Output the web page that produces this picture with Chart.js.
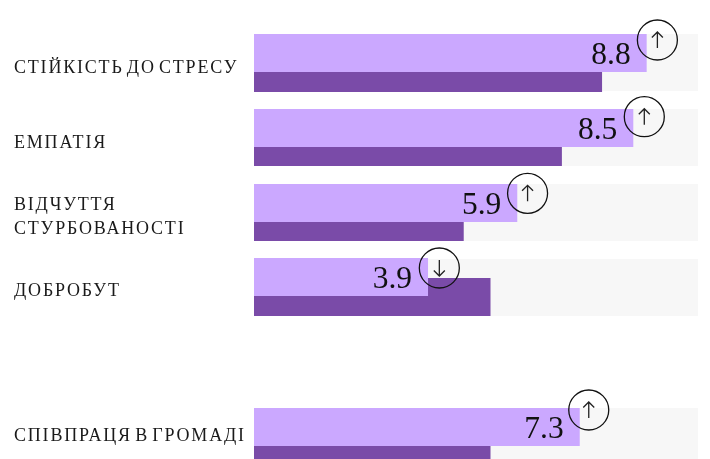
<!DOCTYPE html>
<html lang="uk">
<head>
<meta charset="utf-8">
<style>
  html,body{margin:0;padding:0;background:#fff;overflow:hidden;height:100%}
  canvas{display:block}
</style>
</head>
<body>
<canvas id="chart" width="710" height="484"></canvas>
<script src="https://cdn.jsdelivr.net/npm/chart.js@4"></script>
<script>
  const categories = ['СТІЙКІСТЬ ДО СТРЕСУ', 'ЕМПАТІЯ', ['ВІДЧУТТЯ', 'СТУРБОВАНОСТІ'], 'ДОБРОБУТ', 'СПІВПРАЦЯ В ГРОМАДІ'];
  const rows = [0, 1, 2, 3, 5];                 // row 4 is left empty on purpose
  const currentValues = [8.8, 8.5, 5.9, 3.9, 7.3];
  const previousValues = [7.8, 6.9, 4.7, 5.3, 5.3];
  const trends = ['up', 'up', 'up', 'down', 'up'];
  const axisMax = 9.95;

  // Layout, in pixels
  const ROW_PX = 75;
  const ROW_NUDGE_PX = [0, 0, 0, -1, -1];
  const BAR_PX = 38, TRACK_PX = 57;
  const TRACK_SHIFT_PX = [0, 0, 0, 1, 0];
  const DARK_SHIFT_PX = [20, 19, 19, 20, 19];
  const LABEL_PX = [34, 34, 33, 33.5, 28];
  const BADGE_DX_PX = [10.7, 11, 10.3, 11.3, 9], BADGE_R = 20;
  const BADGE_DY_PX = [6, 7.7, 9.3, 10, 2];
  const PX_PER_UNIT = 444 / axisMax;

  const rowY = (i, px) => rows[i] + (ROW_NUDGE_PX[i] + px) / ROW_PX;
  const badgeX = i => currentValues[i] + BADGE_DX_PX[i] / PX_PER_UNIT;

  // Value number and arrow inside the circle; also the spacing for the axis labels
  const marksPlugin = {
    id: 'marks',
    beforeDraw(c){ c.ctx.letterSpacing = '1.8px'; c.ctx.wordSpacing = '-3px'; },
    afterDatasetsDraw(c){
      const { ctx, scales: { x, y } } = c;
      ctx.save();
      ctx.letterSpacing = '0px';
      ctx.wordSpacing = '0px';
      ctx.fillStyle = '#111';
      ctx.strokeStyle = '#222';
      ctx.lineWidth = 1.3;
      ctx.textBaseline = 'alphabetic';
      ctx.textAlign = 'right';
      ctx.font = '31.5px "Liberation Serif"';
      currentValues.forEach((v, i) => {
        ctx.fillText(v.toFixed(1), x.getPixelForValue(v) - 16, y.getPixelForValue(rowY(i, 0)) + 30);
        const cx = x.getPixelForValue(badgeX(i));
        const cy = y.getPixelForValue(rowY(i, BADGE_DY_PX[i]));
        const dir = trends[i] === 'up' ? -1 : 1;
        ctx.beginPath();
        ctx.moveTo(cx, cy - dir * 8);
        ctx.lineTo(cx, cy + dir * 8);
        ctx.moveTo(cx - 5.5, cy + dir * 2.5);
        ctx.lineTo(cx, cy + dir * 8);
        ctx.lineTo(cx + 5.5, cy + dir * 2.5);
        ctx.stroke();
      });
      ctx.restore();
    }
  };

  new Chart(document.getElementById('chart'), {
    data: {
      datasets: [
        {
          type: 'bar', indexAxis: 'y', label: 'track', order: 4,
          data: currentValues.map((v, i) => ({ x: axisMax, y: rowY(i, TRACK_SHIFT_PX[i] + TRACK_PX / 2) })),
          backgroundColor: '#f7f7f7', barThickness: TRACK_PX, grouped: false, inflateAmount: 0
        },
        {
          type: 'bar', indexAxis: 'y', label: 'previous', order: 3,
          data: previousValues.map((v, i) => ({ x: v, y: rowY(i, DARK_SHIFT_PX[i] + BAR_PX / 2) })),
          backgroundColor: '#7a4ba8', barThickness: BAR_PX, grouped: false, inflateAmount: 0
        },
        {
          type: 'bar', indexAxis: 'y', label: 'current', order: 2,
          data: currentValues.map((v, i) => ({ x: v, y: rowY(i, BAR_PX / 2) })),
          backgroundColor: '#cba8ff', barThickness: BAR_PX, grouped: false, inflateAmount: 0
        },
        {
          type: 'scatter', label: 'badges', order: 1,
          data: currentValues.map((v, i) => ({ x: badgeX(i), y: rowY(i, BADGE_DY_PX[i]) })),
          pointRadius: BADGE_R, pointHoverRadius: BADGE_R,
          pointBackgroundColor: 'transparent', pointBorderColor: '#111', pointBorderWidth: 1.3,
          clip: false
        }
      ]
    },
    options: {
      responsive: false,
      animation: false,
      layout: { autoPadding: false, padding: { left: 14, right: 12, top: 34, bottom: 0 } },
      plugins: { legend: { display: false }, tooltip: { enabled: false } },
      scales: {
        x: { type: 'linear', min: 0, max: axisMax, display: false, offset: false },
        y: {
          type: 'linear', reverse: true, min: 0, max: 6, offset: false,
          grid: { display: false, offset: false }, border: { display: false },
          afterFit: s => { s.width = 240; s.paddingTop = 0; s.paddingBottom = 0; },
          afterBuildTicks: s => { s.ticks = rows.map((r, i) => ({ value: rowY(i, LABEL_PX[i]) })); },
          ticks: {
            autoSkip: false, crossAlign: 'far', padding: 0,
            color: '#1a1a1a', font: { family: '"Liberation Serif"', size: 18, lineHeight: 1.33 },
            callback: (v, i) => categories[i]
          }
        }
      }
    },
    plugins: [marksPlugin]
  });
</script>
</body>
</html>
